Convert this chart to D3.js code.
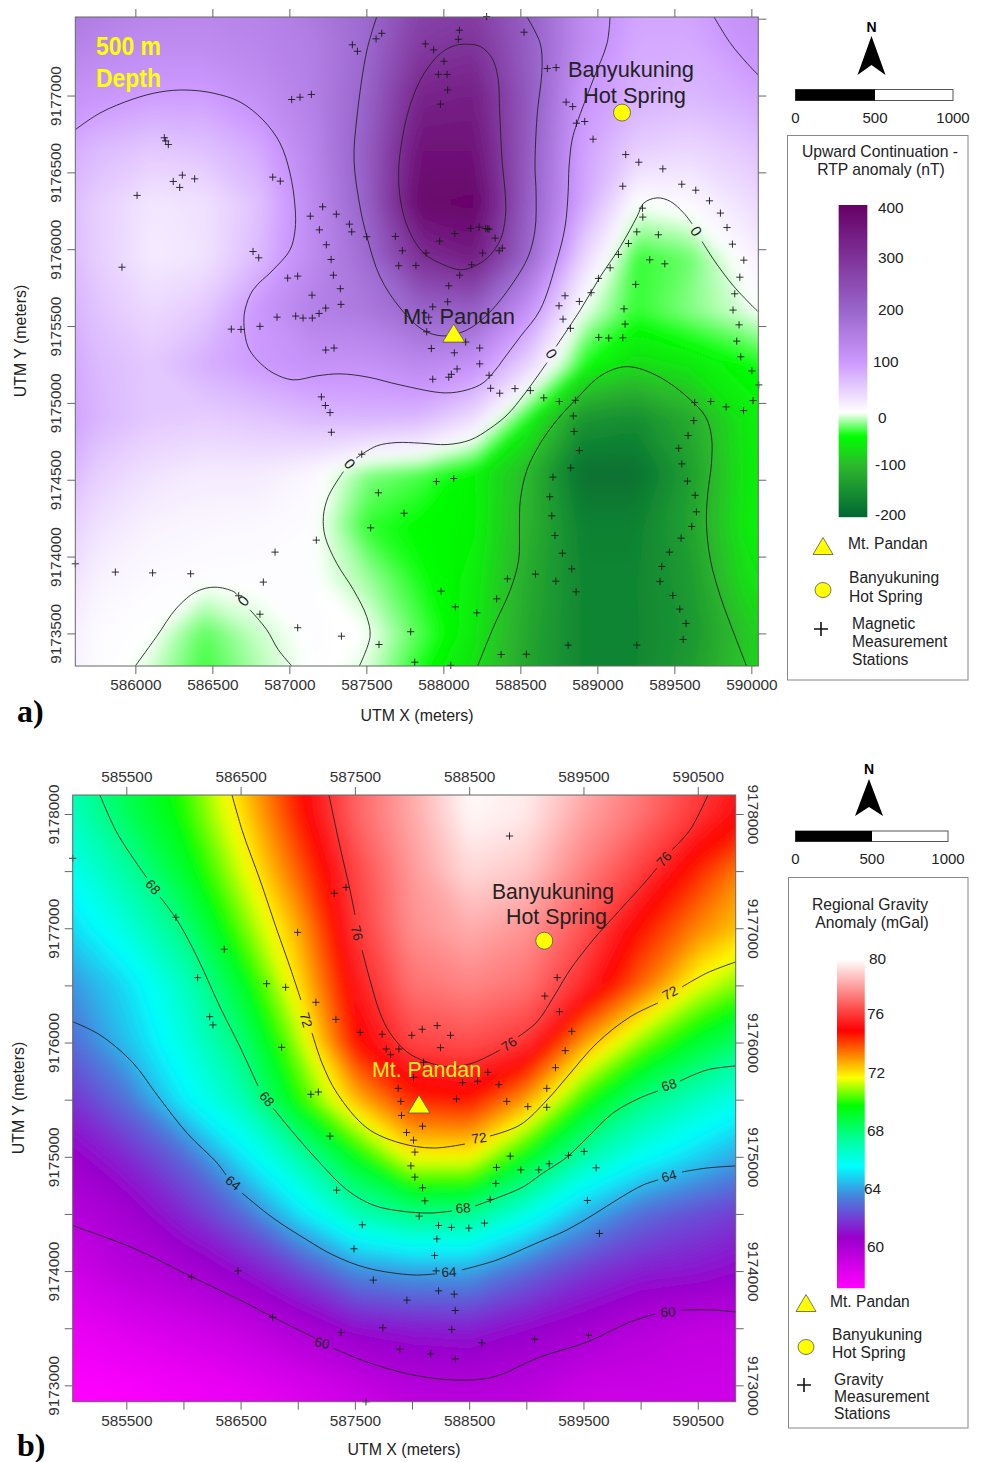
<!DOCTYPE html>
<html>
<head>
<meta charset="utf-8">
<script src="https://cdnjs.cloudflare.com/ajax/libs/d3/7.8.5/d3.min.js"></script>
<style>
body{margin:0;background:#fff}
text{font-family:"Liberation Sans",Arial,sans-serif;fill:#222}
</style>
</head>
<body>
<svg id="fig" width="981" height="1462"></svg>
<script>
// ---- panel a: upward continuation RTP anomaly (nT)
const magX = [585400,585750,586100,586450,586800,587150,587500,587850,588200,588550,588900,589250,589600,589950,590300];
const magY = [9177700,9177350,9177000,9176650,9176300,9175950,9175600,9175250,9174900,9174550,9174200,9173850,9173500,9173150];
const magGrid = [
 [190,170,150,145,150,170,195,260,270,215,130,95,95,125,150],
 [160,140,130,130,140,155,195,285,300,215,130,85,85,110,130],
 [125,108,98,97,120,150,205,330,340,225,108,80,72,85,105],
 [95,70,55,62,85,140,215,365,365,220,95,50,40,55,80],
 [85,50,25,30,62,130,210,390,395,215,90,2,8,30,60],
 [90,50,22,28,70,130,190,310,345,200,45,-35,-25,8,40],
 [100,60,38,55,105,150,165,205,215,115,0,-35,-20,-5,20],
 [110,70,55,80,100,115,115,135,115,45,-40,-70,-60,-45,-30],
 [115,75,55,50,58,70,75,70,35,-45,-140,-150,-115,-60,-45],
 [100,50,30,22,22,10,-20,-30,-50,-100,-185,-185,-130,-62,-48],
 [70,30,14,10,8,5,-35,-45,-50,-105,-165,-165,-125,-60,-45],
 [50,15,6,4,4,3,-15,-40,-55,-115,-160,-160,-135,-70,-48],
 [35,5,2,-28,-8,4,1,-30,-60,-120,-160,-160,-140,-90,-52],
 [25,5,-10,-35,-15,3,-8,-45,-70,-125,-160,-160,-130,-85,-55]
];
const magStations = [
 [587409,9177330],[587442,9177288],[587563,9177369],[587600,9177405],[587015,9176974],[587069,9176989],[587143,9177007],
 [586188,9176725],[586197,9176705],[586214,9176681],[586305,9176482],[586246,9176441],[586288,9176402],[586385,9176458],
 [586011,9176350],[586892,9176469],[586941,9176443],[585913,9175883],[586764,9175985],[586801,9175944],[587136,9176215],
 [587216,9176276],[587305,9176228],[587390,9176163],[587405,9176113],[587195,9176126],[587240,9176029],[587271,9175933],
 [587286,9175831],[587331,9175743],[586989,9175812],[587054,9175825],[587147,9175701],[587335,9175641],[587236,9175617],
 [587193,9175582],[587149,9175552],[587089,9175552],[587041,9175565],[586920,9175558],[586809,9175498],[586623,9175480],
 [586686,9175478],[587236,9175344],[587290,9175357],[587502,9176081],[587688,9176083],[587710,9175892],
 [588281,9177514],[588104,9177425],[588097,9177366],[587883,9177336],[587937,9177297],[588004,9177223],[587968,9177137],
 [588024,9177137],[588028,9177037],[587981,9176944],[588524,9177412],[588675,9177176],[588732,9177182],[588797,9176957],
 [588840,9176928],[588864,9176820],[588918,9176831],[588972,9176716],[589184,9176616],[589269,9176566],[589425,9176523],
 [589165,9176410],[589548,9176423],[589639,9176384],[589728,9176315],[589799,9176235],[589842,9176141],[589877,9176033],
 [589951,9175929],[589925,9175818],[589892,9175710],[589881,9175604],[589920,9175508],[589905,9175402],[589931,9175300],
 [589293,9176267],[589295,9176209],[589256,9176113],[589396,9176094],[589202,9176037],[589137,9175966],[589340,9175931],
 [589438,9175905],[589083,9175879],[589007,9175810],[589249,9175771],[588959,9175717],[588883,9175660],[588790,9175697],
 [588751,9175632],[588777,9175545],[588825,9175485],[589173,9175612],[589180,9175513],[589009,9175426],[589074,9175422],
 [589165,9175424],[587734,9175990],[587822,9175894],[587887,9175975],[587976,9176053],[588074,9176102],[588178,9176135],
 [588232,9176144],[588275,9176135],[588288,9176133],[588297,9176130],[588336,9176072],[588362,9175990],[588383,9176007],
 [588255,9175975],[588184,9175899],[588106,9175831],[588035,9175762],[588028,9175658],[587931,9175625],[587905,9175558],
 [587892,9175463],[588145,9175396],[588236,9175357],[588071,9175326],[587922,9175354],
 [588236,9175254],[588089,9175221],[588052,9175186],[588035,9175167],[587931,9175154],[588297,9175180],[588307,9175095],
 [588366,9175063],[588465,9175093],[588565,9175080],[588652,9175033],[588753,9175009],[588857,9175017],[588844,9174915],
 [588849,9174814],[588883,9174690],[588827,9174577],[588712,9174517],[588691,9174389],[588704,9174265],[588725,9174137],
 [588773,9174022],[588834,9173920],[588730,9173840],[588598,9173886],[588416,9173855],[588862,9173771],[588346,9173725],
 [588217,9173634],[588078,9173673],[587985,9173775],[587788,9173511],[587814,9173313],[588048,9173292],[588375,9173363],
 [588539,9173365],[588810,9173424],[589256,9173424],[589557,9173461],[589576,9173565],[589535,9173658],[589490,9173747],
 [589407,9173838],[589418,9173936],[589468,9174029],[589544,9174120],[589613,9174196],[589643,9174291],[589635,9174399],
 [589585,9174491],[589548,9174603],[589528,9174705],[589589,9174788],[589626,9174885],[589632,9175002],[589736,9175009],
 [589836,9174974],[589949,9174950],[590011,9175015],[590048,9175117],[590003,9175208],[587955,9174488],[588067,9174508],
 [587745,9174282],[587208,9175039],[587234,9174983],[587264,9174937],[587273,9174809],[587470,9174666],[587578,9174415],
 [587528,9174187],[587175,9174107],[586907,9174029],[585610,9173953],[585870,9173899],[586112,9173894],[586359,9173888],
 [586831,9173834],[586671,9173745],[586809,9173625],[587054,9173537],[587338,9173482],[587582,9173428]
];
const magLines = [
 [[585610,9176778],[585770,9176886],[585985,9176977],[586160,9177023],[586322,9177036],[586504,9177016],[586680,9176958],[586829,9176841],[586939,9176691],[587004,9176496],[587037,9176275],[587037,9176125],[587004,9175995],[586894,9175865],[586764,9175735],[586712,9175605],[586706,9175494],[586732,9175364],[586790,9175280],[586894,9175195],[587024,9175150],[587180,9175176],[587329,9175189],[587504,9175169],[587719,9175117],[588011,9175065],[588154,9175085],[588258,9175130],[588349,9175228],[588387,9175280],[588498,9175429],[588628,9175605],[588738,9175930],[588790,9176145],[588810,9176366],[588816,9176535],[588836,9176711],[588868,9176821],[588972,9177101],[589063,9177341],[589082,9177511]],
 [[587567,9177511],[587504,9177296],[587439,9176860],[587420,9176580],[587459,9176275],[587504,9176080],[587589,9175820],[587719,9175618],[587868,9175475],[587998,9175436],[588154,9175475],[588303,9175592],[588452,9175781],[588550,9175950],[588595,9176125],[588602,9176366],[588595,9176535],[588608,9176860],[588641,9177185],[588628,9177341],[588543,9177511]],
 [[589756,9177514],[589864,9177340],[589972,9177210],[590048,9177130]],
 [[587455,9173289],[587524,9173480],[587502,9173610],[587416,9173784],[587307,9173957],[587232,9174131],[587221,9174261],[587253,9174391],[587351,9174553]],
 [[587433,9174640],[587567,9174720],[587699,9174742],[587851,9174738],[588024,9174729],[588175,9174759],[588305,9174835],[588414,9174922],[588522,9175052],[588673,9175262]],
 [[588732,9175367],[588890,9175606],[589020,9175823],[589150,9176018],[589258,9176213],[589301,9176300],[589388,9176334],[589474,9176311],[589561,9176235],[589615,9176165]],
 [[589680,9176050],[589756,9175931],[589886,9175758],[590048,9175589]],
 [[586000,9173289],[586138,9173480],[586268,9173665],[586398,9173773],[586517,9173801],[586636,9173773],[586662,9173751]],
 [[586744,9173654],[586853,9173524],[586928,9173394],[587015,9173289]],
 [[588223,9173289],[588327,9173545],[588435,9173784],[588489,9173979],[588494,9174196],[588500,9174369],[588543,9174564],[588630,9174738],[588738,9174889],[588868,9175030],[588998,9175160],[589106,9175219],[589193,9175236],[589301,9175215],[589453,9175139],[589604,9175020],[589702,9174911],[589741,9174781],[589741,9174608],[589717,9174412],[589708,9174217],[589734,9173979],[589799,9173740],[589886,9173502],[589968,9173289]]
];
const magLoop = [[588143,9177334],[588240,9177319],[588316,9177243],[588353,9177124],[588366,9176885],[588381,9176582],[588403,9176343],[588403,9176213],[588370,9176061],[588284,9175942],[588197,9175888],[588110,9175866],[588002,9175899],[587872,9175975],[587775,9176126],[587721,9176321],[587710,9176517],[587732,9176712],[587775,9176907],[587851,9177102],[587959,9177254],[588056,9177319]];
const magLabels = [[589641,9176118,"0",55],[588701,9175320,"0",55],[587392,9174603,"0",50],[586701,9173712,"0",-50]];
const magTicks = [400,300,200,100,0,-100,-200];
const magDomain = [-200,-100,-45,0,100,200,300,400];

// ---- panel b: regional gravity anomaly (mGal)
const gravX = [584500,585000,585500,586000,586500,587000,587500,588000,588500,589000,589500,590000,590500,591000];
const gravY = [9178500,9178000,9177500,9177000,9176500,9176000,9175500,9175000,9174500,9174000,9173500,9173000,9172500];
const gravGrid = [
 [65.8,67.2,68.9,70.3,72.6,75,76.8,78.4,80,79.7,78.7,77.5,76.4,75.3],
 [65.5,66.8,68.5,70,72.1,74.6,76.9,78.3,79.9,79.6,78.2,77.2,76,74.8],
 [64.8,65.9,67.4,69.2,71.4,73.8,76.3,78,79.3,78.9,77.5,76.2,74.5,73],
 [63.8,65,66.3,68,70.5,72.8,76,77.8,78.4,77.9,76.6,74.8,73.3,72.2],
 [62.5,63.8,65.1,66.8,69.2,72.1,75.4,77.2,77.6,77.2,75.8,73.7,71.6,70.4],
 [61.6,63,64.6,66.2,68.1,71,74.8,76.3,76.5,76,73,70.8,69.2,67.9],
 [60.6,61.8,63.2,65.4,67,69.9,72.6,74.5,74.8,73,70,68,66.8,65.8],
 [59.8,60.6,61.6,63,65.2,67.2,69.5,71.8,71.8,69.5,67.3,65.9,64.9,63.9],
 [59.5,59.7,60.4,61.6,63,65.1,67,67.9,67.8,66.2,64.4,63.1,62.4,61.9],
 [58.6,58.9,59.7,60.2,61,62.2,63.7,64.1,64.1,63,62,61.4,61.2,60.8],
 [57.8,58,58.4,58.8,59.3,60.1,61,61.3,61.4,60.9,60.4,59.8,59.4,59.3],
 [57.2,57.3,57.5,57.8,58.1,58.6,59.2,59.8,59.9,59.7,59.1,59.1,59,59],
 [57,57,57.2,57.4,57.6,58,58.5,59,59,59,58.8,58.7,58.7,58.7]
];
const gravStations = [
 [585031,9177612],[587320,9177306],[587422,9177358],[585934,9177096],[586999,9176964],[586357,9176816],[586124,9176568],
 [586728,9176515],[586894,9176483],[587159,9176352],[586229,9176226],[586258,9176154],[587334,9176203],[587547,9176089],
 [587739,9176072],[586859,9175958],[587774,9175943],[587812,9175894],[587885,9175943],[587879,9175599],[587115,9175547],
 [587180,9175567],[588853,9177807],[589270,9176568],[589162,9176407],[589290,9176270],[589398,9176098],[589340,9175929],
 [589255,9175780],[589179,9175599],[588829,9175485],[589013,9175439],[589179,9175433],[587998,9176063],[588089,9176116],
 [588220,9176148],[588337,9176063],[588249,9175955],[588101,9175827],[588013,9175696],[588663,9175739],[588442,9175649],
 [588573,9175661],[588760,9175631],[588389,9175506],[587902,9175485],[587908,9175362],[588092,9175268],[587952,9175213],
 [588013,9175146],[588025,9175041],[587990,9174921],[588025,9174822],[588092,9174729],[588112,9174615],[588063,9174481],
 [588232,9174399],[588345,9174382],[588497,9174376],[588634,9174420],[588217,9174282],[588197,9174137],[588211,9174002],
 [588232,9173827],[588369,9173798],[587955,9173746],[588378,9173655],[588348,9173489],[587745,9173504],[587893,9173317],
 [588162,9173276],[588380,9173232],[588611,9173372],[589072,9173404],[589544,9173439],[589640,9174329],[589535,9174618],
 [589611,9174904],[589506,9175047],[589369,9175012],[589200,9174939],[589109,9174886],[588952,9174886],[588859,9175006],
 [588739,9174907],[588733,9174767],[588684,9174627],[587282,9175181],[587340,9174708],[587565,9174405],[587492,9174195],
 [587661,9173921],[586072,9173947],[586477,9174002],[586780,9173597],[587378,9173463],[587597,9172856]
];
const gravLines = [
 [[585031,9174397],[585559,9174202],[586075,9173948],[586495,9173747],[586783,9173598],[587151,9173414]],
 [[587308,9173327],[587606,9173204],[588008,9173091],[588376,9173047],[588708,9173073],[589119,9173248],[589531,9173379],[589907,9173554],[590126,9173624]],
 [[590344,9173660],[590633,9173660],[590832,9173642]],
 [[585031,9176182],[585270,9176066],[585559,9175821],[585769,9175541],[586031,9175208],[586294,9174946],[586372,9174841]],
 [[586512,9174683],[586783,9174465],[587081,9174272],[587308,9174141],[587606,9174027],[588008,9173966],[588201,9173975]],
 [[588437,9174010],[588743,9174097],[589093,9174246],[589356,9174360],[589583,9174491],[589819,9174640],[590021,9174753],[590152,9174797]],
 [[590362,9174867],[590581,9174902],[590832,9174920]],
 [[585270,9178166],[585419,9177834],[585681,9177440]],
 [[585795,9177274],[585944,9177072],[586119,9176749],[586320,9176311],[586495,9175961],[586652,9175620]],
 [[586783,9175427],[586993,9175173],[587195,9174946],[587431,9174710],[587658,9174578],[587895,9174526],[588157,9174508],[588350,9174526]],
 [[588551,9174570],[588743,9174640],[588971,9174736],[589146,9174858],[589356,9174998],[589531,9175165],[589758,9175383],[589994,9175515],[590152,9175576]],
 [[590344,9175663],[590581,9175760],[590832,9175795]],
 [[586425,9178166],[586521,9177834],[586670,9177422],[586818,9176985],[586932,9176661],[587028,9176372]],
 [[587125,9176084],[587212,9175821],[587343,9175558],[587606,9175252],[587895,9175121],[588183,9175077],[588463,9175112]],
 [[588682,9175182],[588944,9175278],[589181,9175497],[589356,9175698],[589618,9175996],[589907,9176224],[590152,9176346]],
 [[590362,9176486],[590581,9176609],[590832,9176705]],
 [[587273,9178166],[587370,9177711],[587457,9177335],[587501,9177116]],
 [[587562,9176810],[587632,9176547],[587720,9176259],[587807,9176084],[587956,9175917],[588131,9175830],[588332,9175786],[588533,9175821],[588770,9175935]],
 [[588927,9176049],[589093,9176180],[589233,9176390],[589382,9176635],[589583,9176897],[589819,9177160],[590056,9177422],[590143,9177527]],
 [[590274,9177685],[590432,9177860],[590589,9178166]]
];
const gravLabels = [
 [587212,9173371,"60",12],[590239,9173642,"60",-3],
 [586434,9174771,"64",38],[588323,9173992,"64",-3],[590248,9174832,"64",-15],
 [585734,9177361,"68",50],[586731,9175506,"68",50],[588446,9174552,"68",-5],[590248,9175628,"68",-18],
 [587072,9176197,"72",75],[588586,9175165,"72",-8],[590257,9176434,"72",-28],
 [587518,9176959,"76",75],[588848,9175987,"76",-35],[590204,9177606,"76",-48]
];
const gravTicks = [80,76,72,68,64,60];
const gravDomain = [57.2,60.7,63.6,65.6,67.5,69.8,71.7,74.9,80];

const svg = d3.select("#fig");
const ns = "M-3.6,0H3.6M0,-3.6V3.6";

const magColor = d3.scaleLinear().domain(magDomain)
  .range(["#006633","#2eb82e","#00ff00","#ffffff","#cc99ff","#9966cc","#7f3399","#660066"]);
const gravColor = d3.scaleLinear().domain(gravDomain)
  .range(["#ff00ff","#9900cc","#4488dd","#00ffff","#00ff99","#00ff00","#ffff00","#ff0000","#ffffff"]);

const defs = svg.append("defs");
defs.append("filter").attr("id","soft").attr("filterUnits","userSpaceOnUse")
  .attr("x",-100).attr("y",-100).attr("width",1200).attr("height",1700)
  .append("feGaussianBlur").attr("stdDeviation",7);

function drawMap(o){
  const x = d3.scaleLinear().domain(o.xDomain).range(o.xRange);
  const y = d3.scaleLinear().domain(o.yDomain).range(o.yRange);
  const [x0,x1] = o.xRange, [y0,y1] = o.yRange;
  const g = svg.append("g");

  defs.append("clipPath").attr("id",o.id+"clip").append("rect")
    .attr("x",x0).attr("y",y0).attr("width",x1-x0).attr("height",y1-y0);

  // filled bands from the value grid
  const nx = o.gx.length, ny = o.gy.length;
  const ix = d3.scaleLinear().domain([0,nx-1]).range([o.gx[0],o.gx[nx-1]]);
  const iy = d3.scaleLinear().domain([0,ny-1]).range([o.gy[0],o.gy[ny-1]]);
  const project = d3.geoTransform({point(a,b){
    this.stream.point(x(ix(a-0.5)), y(iy(b-0.5)));
  }});
  const bands = d3.contours().size([nx,ny]).smooth(true).thresholds(o.levels)(o.grid.flat());
  g.append("g").attr("clip-path",`url(#${o.id}clip)`)
   .append("g").attr("filter","url(#soft)")
    .selectAll("path").data(bands).join("path")
    .attr("d",d3.geoPath(project)).attr("fill",d=>o.color(d.value));

  // traced isolines
  const line = d3.line().x(d=>x(d[0])).y(d=>y(d[1])).curve(d3.curveCatmullRom.alpha(0.5));
  const lines = g.append("g").attr("clip-path",`url(#${o.id}clip)`).attr("fill","none").attr("stroke","#222").attr("stroke-width",0.9);
  lines.selectAll("path.iso").data(o.lines).join("path").attr("class","iso").attr("d",line);
  if(o.loop){
    lines.append("path").attr("d",d3.line().x(d=>x(d[0])).y(d=>y(d[1])).curve(d3.curveCatmullRomClosed.alpha(0.5))(o.loop));
  }
  g.selectAll("text.iso").data(o.labels).join("text").attr("class","iso")
    .attr("transform",d=>`translate(${x(d[0])},${y(d[1])}) rotate(${d[3]})`)
    .attr("text-anchor","middle").attr("dy","0.35em").attr("font-size",o.isoSize).text(d=>d[2]);

  // stations
  g.append("g").selectAll("path").data(o.stations).join("path")
    .attr("d",ns).attr("transform",d=>`translate(${x(d[0])},${y(d[1])})`)
    .attr("stroke","#1a1a1a").attr("stroke-width",0.9).attr("fill","none");

  // frame + axes
  g.append("rect").attr("x",x0).attr("y",y0).attr("width",x1-x0).attr("height",y1-y0)
    .attr("fill","none").attr("stroke","#666").attr("stroke-width",1);
  const fmt = vals => d => vals.includes(d) ? d3.format("d")(d) : "";
  function axis(gen,tr,vals,labelled,cb){
    const a = g.append("g").attr("transform",tr).call(gen.tickValues(vals).tickSize(8).tickSizeOuter(0).tickFormat(fmt(labelled)));
    a.select(".domain").remove();
    a.selectAll("line").attr("stroke","#666");
    a.selectAll("text").attr("font-size",15.4).style("font-family",'"Liberation Sans"').style("fill","#333");
    if(cb) a.selectAll("text").each(cb);
  }
  axis(d3.axisBottom(x),`translate(0,${y1})`,o.xb,o.xbl,function(){d3.select(this).attr("y",19).attr("dy","0.35em")});
  axis(d3.axisTop(x),`translate(0,${y0})`,o.xt,o.xtl,function(){d3.select(this).attr("y",-18).attr("dy","0.35em")});
  axis(d3.axisLeft(y),`translate(${x0},0)`,o.yl,o.yll,function(){
    d3.select(this).attr("x",null).attr("dy","0.35em").attr("text-anchor","middle").attr("transform","translate(-19.5,0) rotate(-90)");
  });
  axis(d3.axisRight(y),`translate(${x1},0)`,o.yr,o.yrl,function(){
    d3.select(this).attr("x",null).attr("dy","0.35em").attr("text-anchor","middle").attr("transform","translate(17.5,0) rotate(90)");
  });

  // map symbols
  tri(g,x(o.mt[0]),y(o.mt[1]),22,18);
  g.append("circle").attr("cx",x(o.hs[0])).attr("cy",y(o.hs[1])).attr("r",8.5).attr("fill","#ffff00").attr("stroke","#555").attr("stroke-width",0.8);
}

function tri(g,cx,cy,w,h){
  g.append("path").attr("d",d3.line()([[cx-w/2,cy+h/2],[cx,cy-h/2],[cx+w/2,cy+h/2]])+"Z")
    .attr("fill","#ffff00").attr("stroke","#555").attr("stroke-width",0.8);
}
function label(s,px,py,size,opt={}){
  const t = svg.append("text").attr("x",px).attr("y",py).attr("font-size",size).text(s);
  if(opt.anchor) t.attr("text-anchor",opt.anchor);
  if(opt.fill) t.style("fill",opt.fill);
  if(opt.weight) t.attr("font-weight",opt.weight);
  if(opt.family) t.style("font-family",opt.family);
  if(opt.rotate!=null) t.attr("transform",`rotate(${opt.rotate} ${px} ${py})`);
  if(opt.len) t.attr("textLength",opt.len).attr("lengthAdjust","spacingAndGlyphs");
  return t;
}
function north(cx,top,notch,base,half,ny){
  label("N",cx,ny,14,{anchor:"middle",weight:"bold",family:'"Liberation Sans"'}).style("fill","#000");
  svg.append("path").attr("d",d3.line()([[cx,top],[cx-half,base],[cx,notch],[cx+half,base]])+"Z").attr("fill","#000");
}
function scalebar(x0,xm,x1,y0,y1,ly){
  svg.append("rect").attr("x",x0).attr("y",y0).attr("width",x1-x0).attr("height",y1-y0).attr("fill","#fff").attr("stroke","#555");
  svg.append("rect").attr("x",x0).attr("y",y0).attr("width",xm-x0).attr("height",y1-y0).attr("fill","#000");
  label("0",x0,ly,15,{anchor:"middle"});
  label("500",xm,ly,15,{anchor:"middle"});
  label("1000",x1,ly,15,{anchor:"middle"});
}
function colorbar(o){
  const s = d3.scaleLinear().domain(o.stops).range(o.px);
  const vals = d3.range(o.y0,o.y1,1).map(p=>s.invert(p));
  svg.append("g").selectAll("rect").data(vals).join("rect")
    .attr("x",o.x).attr("y",(d,i)=>o.y0+i).attr("width",o.w).attr("height",1.2).attr("fill",d=>o.color(d));
}
function plus(cx,cy){
  svg.append("path").attr("d","M-7,0H7M0,-7V7").attr("transform",`translate(${cx},${cy})`).attr("stroke","#111").attr("stroke-width",1.6);
}

// ---- panel a
drawMap({
  id:"a", xDomain:[585610,590045], xRange:[75.3,758.3], yDomain:[9177511,9173288], yRange:[17,666],
  gx:magX, gy:magY, grid:magGrid, levels:d3.range(-210,410,3), color:magColor,
  lines:magLines, loop:magLoop, labels:magLabels, isoSize:15, stations:magStations,
  xb:d3.range(586000,590001,500), xbl:d3.range(586000,590001,500),
  xt:d3.range(586000,590001,500), xtl:[],
  yl:d3.range(9173500,9177001,500), yll:d3.range(9173500,9177001,500),
  yr:d3.range(9173500,9177501,500), yrl:[],
  mt:[588067,9175454], hs:[589160,9176889]
});
label("500 m",96,55,25,{fill:"#ffff00",weight:"bold",len:65});
label("Depth",96,87,25,{fill:"#ffff00",weight:"bold",len:65});
label("Banyukuning",568,77,22.5,{len:126});
label("Hot Spring",583,103,22.5,{len:103});
label("Mt. Pandan",403,324,22,{len:112});
label("UTM X (meters)",417,721,15.9,{anchor:"middle"});
label("UTM Y (meters)",26,341,15.9,{anchor:"middle",rotate:-90});
label("a)",17,722,32,{weight:"bold",family:'"Liberation Serif"'}).style("fill","#000");

north(871.5,36,65,75,14,32);
scalebar(795.5,875,953,89.5,100.5,123);
svg.append("rect").attr("x",787.5).attr("y",135.5).attr("width",180.5).attr("height",544.5).attr("fill","#fff").attr("stroke","#888");
label("Upward Continuation -",880,157,15.7,{anchor:"middle"});
label("RTP anomaly (nT)",881,175,15.7,{anchor:"middle"});
colorbar({stops:[-200,-100,0,100,200,300,400],px:[517,465,412,362,310,258,205],x:838.7,y0:205,y1:517,w:28.6,color:magColor});
magTicks.forEach((v,i)=>label(v,[878,878,878,873,878,875,875][i],[213,263,315,367,423,470,520][i],15.4));
tri(svg,823,546,20,17);
label("Mt. Pandan",848,549,15.6);
svg.append("ellipse").attr("cx",823).attr("cy",590).attr("rx",8).attr("ry",7.5).attr("fill","#ffff00").attr("stroke","#555").attr("stroke-width",0.8);
label("Banyukuning",849,583,15.6);
label("Hot Spring",849,602,15.6);
plus(821,629);
label("Magnetic",852,629,15.6);
label("Measurement",852,647,15.6);
label("Stations",852,665,15.6);

// ---- panel b
drawMap({
  id:"b", xDomain:[585031,590832], xRange:[72.7,735.7], yDomain:[9178166,9172857], yRange:[795,1401.7],
  gx:gravX, gy:gravY, grid:gravGrid, levels:d3.range(56.5,80.5,0.1), color:gravColor,
  lines:gravLines, labels:gravLabels, isoSize:13.5, stations:gravStations,
  xb:d3.range(585500,590501,500), xbl:d3.range(585500,590501,1000),
  xt:d3.range(585500,590501,1000), xtl:d3.range(585500,590501,1000),
  yl:d3.range(9173000,9178001,500), yll:d3.range(9173000,9178001,1000),
  yr:d3.range(9173000,9178001,500), yrl:d3.range(9173000,9178001,1000),
  mt:[588061,9175462], hs:[589157,9176891]
});
label("Banyukuning",492,899,22.5,{len:122});
label("Hot Spring",506,924,22.5,{len:101});
label("Mt. Pandan",372,1077,21.5,{len:109,fill:"#ffee22"});
label("UTM X (meters)",404,1455,15.9,{anchor:"middle"});
label("UTM Y (meters)",24,1098,15.9,{anchor:"middle",rotate:-90});
label("b)",17,1456,32,{weight:"bold",family:'"Liberation Serif"'}).style("fill","#000");

north(869,779,807,816,14,774);
scalebar(795.5,872,948,831,841.5,864);
svg.append("rect").attr("x",788.5).attr("y",877.5).attr("width",179.5).attr("height",550.5).attr("fill","#fff").attr("stroke","#888");
label("Regional Gravity",870,910,15.7,{anchor:"middle"});
label("Anomaly (mGal)",872,928,15.7,{anchor:"middle"});
colorbar({stops:[60,64,68,72,76,80],px:[1247,1189,1131,1073,1014,959],x:837,y0:959,y1:1288,w:27.7,color:gravColor});
gravTicks.forEach((v,i)=>label(v,[869,867,868,867,864,867][i],[964,1019,1078,1136,1194,1252][i],15.4));
tri(svg,806,1303,20,17);
label("Mt. Pandan",830,1307,15.6);
svg.append("ellipse").attr("cx",806).attr("cy",1347).attr("rx",8).attr("ry",7.5).attr("fill","#ffff00").attr("stroke","#555").attr("stroke-width",0.8);
label("Banyukuning",832,1340,15.6);
label("Hot Spring",832,1358,15.6);
plus(804,1385);
label("Gravity",834,1385,15.6);
label("Measurement",834,1402,15.6);
label("Stations",834,1419,15.6);
</script>
</body>
</html>
